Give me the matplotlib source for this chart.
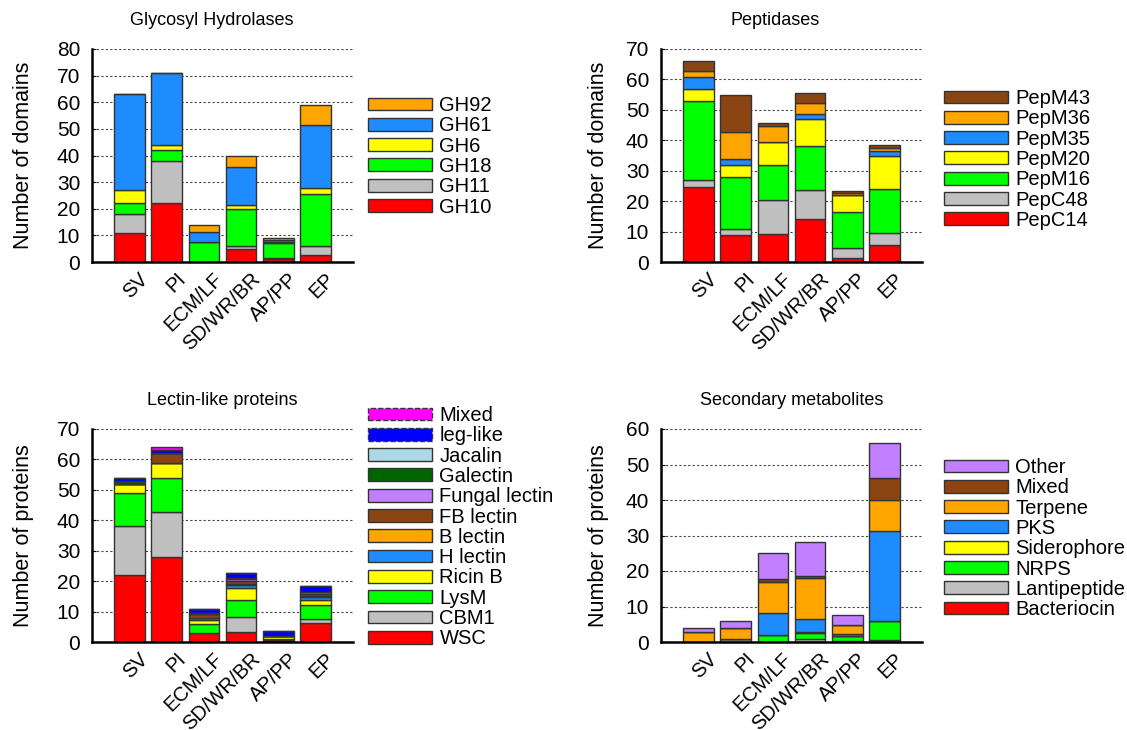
import numpy as np
import matplotlib
matplotlib.use("Agg")
import matplotlib.pyplot as plt
import matplotlib.transforms as mtrans
from matplotlib.patches import Patch

plt.rcParams['font.family'] = ['Liberation Sans', 'DejaVu Sans']

groups = ["SV", "PI", "ECM/LF", "SD/WR/BR", "AP/PP", "EP"]

# Glycosyl hydrolases
gh_names = ["GH10", "GH11", "GH18", "GH6", "GH61", "GH92"]
GH10 = [11, 22, 0, 5, 1.3, 2.6]
GH11 = [7, 16, 0, 1, 0.2, 3.5]
GH18 = [4, 4, 7.5, 14, 5.7, 19.6]
GH6 = [5, 2, 0, 1.4, 0.3, 2.1]
GH61 = [36, 27, 3.8, 14.1, 0.7, 23.8]
GH92 = [0, 0, 2.5, 4.2, 0.8, 7.2]

# Peptidases
pep_names = ["PepC14", "PepC48", "PepM16", "PepM20", "PepM35", "PepM36", "PepM43"]
PepC14 = [24.8, 9, 9.2, 14.2, 1.3, 5.7]
PepC48 = [2.1, 2, 11.2, 9.3, 3.3, 3.7]
PepM16 = [26, 17, 11.5, 14.5, 11.8, 14.6]
PepM20 = [4.1, 3.9, 7.5, 9.1, 5.5, 10.8]
PepM35 = [3.9, 2.1, 0, 1.4, 0.2, 1.7]
PepM36 = [1.9, 8.8, 5.3, 3.9, 0.5, 1.1]
PepM43 = [3.2, 12.2, 1.0, 3.0, 0.6, 0.7]

# Lectin-like proteins
lec_names = ["WSC", "CBM1", "LysM", "Ricin B", "H lectin", "B lectin", "FB lectin",
             "Fungal lectin", "Galectin", "Jacalin", "leg-like", "Mixed"]
WSC = [22.1, 28, 3, 3.4, 0.5, 6.4]
CBM1 = [15.9, 14.8, 0, 4.7, 0, 1.2]
LysM = [11, 11.1, 3, 5.6, 0.5, 4.6]
RicinB = [2.8, 4.8, 1.3, 4.1, 1.0, 1.7]
Hlec = [0, 0, 0.6, 0.8, 0, 1.0]
Blec = [0, 0, 0, 0.3, 0, 0.3]
FBlec = [0, 3.3, 1.2, 1.0, 0, 0.5]
Fungal = [0, 0, 0, 0.8, 0, 0.7]
Galectin = [1.0, 0, 0.4, 0.3, 0, 0]
Jacalin = [0, 0, 0, 0, 0, 0]
LegLike = [1.0, 1.0, 1.4, 1.7, 1.6, 2.0]
LecMixed = [0, 1.0, 0, 0, 0, 0]

# Secondary metabolites
sm_names = ["Bacteriocin", "Lantipeptide", "NRPS", "Siderophore", "PKS", "Terpene", "Mixed", "Other"]
Bacteriocin = [0, 0, 0, 0, 0.3, 0]
Lantipeptide = [0, 0.9, 0, 0.75, 0, 0.5]
NRPS = [0, 0, 2.1, 1.7, 1.5, 5.4]
Siderophore = [0, 0, 0, 0.5, 0, 0]
PKS = [0, 0, 6.1, 3.6, 0.4, 25.4]
Terpene = [2.9, 3.0, 8.7, 11.6, 2.5, 8.8]
SmMixed = [0, 0, 0.9, 0.5, 0, 6.2]
Other = [1.1, 2.1, 7.2, 9.6, 2.8, 9.7]

RED, GRAY, GREEN, YELLOW = "#ff0000", "#c0c0c0", "#00ff00", "#ffff00"
BLUE, ORANGE, BROWN, PURPLE = "#1e8cff", "#ffa500", "#8b4513", "#c080ff"

panels = [
    dict(title="Glycosyl Hydrolases", tx=0.46, ylabel="Number of domains", ymax=80,
         names=gh_names, series=[GH10, GH11, GH18, GH6, GH61, GH92],
         colors=[RED, GRAY, GREEN, YELLOW, BLUE, ORANGE],
         rect=[92, 49, 353, 262], leg=(368, 96), ylx=34),
    dict(title="Peptidases", tx=0.437, ylabel="Number of domains", ymax=70,
         names=pep_names, series=[PepC14, PepC48, PepM16, PepM20, PepM35, PepM36, PepM43],
         colors=[RED, GRAY, GREEN, YELLOW, BLUE, ORANGE, BROWN],
         rect=[661, 49, 922, 262], leg=(944, 89), ylx=609),
    dict(title="Lectin-like proteins", tx=0.5, ylabel="Number of proteins", ymax=70,
         names=lec_names, series=[WSC, CBM1, LysM, RicinB, Hlec, Blec, FBlec, Fungal,
                                  Galectin, Jacalin, LegLike, LecMixed],
         colors=[RED, GRAY, GREEN, YELLOW, BLUE, ORANGE, BROWN, PURPLE,
                 "#006400", "#add8e6", "#0000ff", "#ff00ff"],
         rect=[92, 429, 353, 642], leg=(368, 406), ylx=34),
    dict(title="Secondary metabolites", tx=0.5, ylabel="Number of proteins", ymax=60,
         names=sm_names, series=[Bacteriocin, Lantipeptide, NRPS, Siderophore, PKS,
                                 Terpene, SmMixed, Other],
         colors=[RED, GRAY, GREEN, YELLOW, BLUE, ORANGE, BROWN, PURPLE],
         rect=[661, 429, 922, 642], leg=(944, 458), ylx=609),
]

W, H = 1127, 730
fig = plt.figure(figsize=(W / 100, H / 100), dpi=100)
shift = mtrans.ScaledTranslation(16 / 100, 0, fig.dpi_scale_trans)

x = np.arange(len(groups))
for p in panels:
    x0, y0, x1, y1 = p["rect"]
    ax = fig.add_axes([x0 / W, 1 - y1 / H, (x1 - x0) / W, (y1 - y0) / H])
    ax.set_axisbelow(True)
    ax.yaxis.grid(True, linestyle=(0, (2, 2)), color="#444444", lw=0.8)
    bottom = np.zeros(len(groups))
    handles = []
    for name, vals, col in zip(p["names"], p["series"], p["colors"]):
        vals = np.array(vals, dtype=float)
        ax.bar(x, vals, 0.82, bottom=bottom, color=col, edgecolor="#333333", lw=1)
        bottom += vals
        ls = "--" if name in ("leg-like", "Mixed") and p["title"].startswith("Lectin") else "-"
        handles.append(Patch(facecolor=col, edgecolor="#333333", lw=1, linestyle=ls, label=name))
    ax.set_xlim(-1, 6)
    ax.set_ylim(0, p["ymax"])
    ax.set_yticks(np.arange(0, p["ymax"] + 1, 10))
    ax.set_xticks(x)
    ax.set_xticklabels(groups, rotation=45, ha="right", va="center", rotation_mode="anchor")
    ax.tick_params(axis="x", length=0, labelsize=14.5, pad=10)
    ax.tick_params(axis="y", length=3, direction="in", labelsize=15, pad=8.5)
    for lab in ax.get_xticklabels():
        lab.set_transform(lab.get_transform() + shift)
    for s in ["top", "right"]:
        ax.spines[s].set_visible(False)
    ax.spines["left"].set_linewidth(1.8)
    ax.spines["bottom"].set_linewidth(1.8)
    ax.set_title(p["title"], x=p["tx"], fontsize=13, pad=17)
    ax.set_ylabel(p["ylabel"], fontsize=15.5)
    ax.yaxis.set_label_coords((p["ylx"] - x0) / (x1 - x0), 0.5)
    lx, ly = p["leg"]
    fig.legend(handles=handles[::-1], loc="upper left",
               bbox_to_anchor=(lx / W, 1 - ly / H), frameon=False, fontsize=14.5,
               handlelength=3.2, handleheight=0.6, labelspacing=0.065,
               handletextpad=0.35, borderaxespad=0, borderpad=0)

fig.savefig("out.png", dpi=100)
